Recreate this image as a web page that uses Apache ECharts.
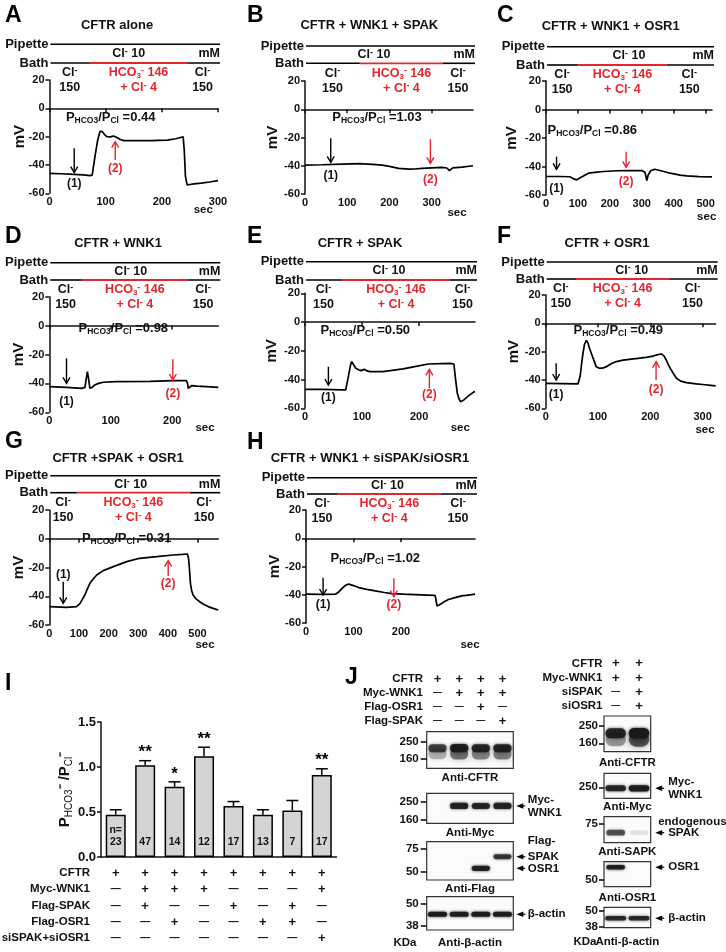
<!DOCTYPE html>
<html>
<head>
<meta charset="utf-8">
<script src="https://cdn.jsdelivr.net/npm/echarts@6.0.0/dist/echarts.min.js"></script>
<style>
html,body{margin:0;padding:0;background:#fff;}
#chart{width:726px;height:952px;}
</style>
</head>
<body>
<div id="chart"></div>
<script>
// ================= DATA =================
const panelLetters = ['A','B','C','D','E','F','G','H'];
const panelTitles = ['CFTR alone','CFTR + WNK1 + SPAK','CFTR + WNK1 + OSR1','CFTR + WNK1','CFTR + SPAK','CFTR + OSR1','CFTR +SPAK + OSR1','CFTR + WNK1 + siSPAK/siOSR1'];
const ratioLabels = ['0.44','1.03','0.86','0.98','0.50','0.49','0.31','1.02'];
const timeMax = [300,398,520,275,298,325,570,356];
const timeTickMax = [300,300,500,200,200,300,500,200];

const timeA = [0,20,43,60,72,76,81,86,90,94,98,102,108,114,120,126,132,150,180,210,225,233,238,240,242,245,250,257,270,285,300];
const mvA   = [-45.9,-46.2,-46.6,-47.0,-47.5,-47.2,-34,-22,-16.2,-16.5,-18.5,-20,-20.2,-19.6,-20.6,-22,-22.8,-22.8,-22.8,-22.4,-21.5,-20.6,-20.2,-30,-48,-54.1,-53.8,-53.4,-52.8,-52.0,-51.1];
const timeB = [0,40,88,128,160,183,200,222,246,260,277,300,324,336,340,342,345,350,372,398];
const mvB   = [-39.5,-39.3,-38.8,-38.5,-39,-39.6,-40.5,-41.8,-42.4,-42.3,-41.9,-41.5,-41.2,-41.6,-42.8,-43.5,-42.5,-41.5,-41.0,-40.0];
const timeC = [0,40,75,85,96,110,133,160,180,222,260,300,306,310,314,316,320,328,340,360,389,420,441,480,520];
const mvC   = [-47,-47,-47.2,-48.5,-49.4,-47.5,-44.7,-43.9,-43.5,-43,-42.9,-42.8,-42.8,-44,-48,-49.9,-46,-43,-41.9,-43,-44.7,-46,-46.6,-47.1,-47.3];
const timeD = [0,28,52.6,58,60,62,64,66,70,74,80,88,109.5,164,202,223,225,226,228,231.5,240,256,275];
const mvD   = [-42.2,-42.7,-43.4,-42.8,-37,-31.9,-37,-43.4,-42.6,-41.1,-40,-39.2,-38.8,-38.6,-38.1,-38.1,-40,-43.4,-43,-41.6,-41.9,-42.2,-42.7];
const timeE = [0,30,65.5,71.4,76,80,82,85,89,94,98,101,104,108,113,136.5,172,201.5,216,240,255,261,264,267,270,272.5,278.5,286,296,298];
const mvE   = [-46.8,-46.9,-47.2,-47.2,-38,-29.5,-27.5,-29.5,-32.2,-33.2,-33.8,-33.3,-32.9,-33.8,-34.5,-34.5,-32.6,-30.3,-29.2,-28.9,-28.7,-29.2,-40,-49.6,-53.5,-55.4,-54.2,-51.5,-48.6,-48.4];
const timeF = [0,30,61.8,64,66,68,71,74,77.7,81,84,87,92,96.5,103,110,116,125,135,148,160,176,192,205,211,216,221,226,230.5,235,240,245,250,258,269,288,300,320,325];
const mvF   = [-42.4,-42.6,-42.8,-42,-37,-30.6,-22,-15,-12,-14,-18,-21,-26,-30.6,-31.8,-31.5,-30.6,-28.5,-27,-26,-25.4,-24.8,-24,-23.2,-22.4,-22,-21.6,-23,-25.9,-29.5,-33,-36,-38.8,-40.8,-41.9,-42.8,-43.2,-44,-44.2];
const timeG = [0,58,92,98,104,112,120,128,137,148,160,182,216,261,305,362,418,450,466,470,473,476,480,485,495,507,520,536,555,570];
const mvG   = [-47.2,-47.7,-47.2,-46.5,-44.9,-42,-39.1,-35,-31,-28,-25.2,-22.2,-19.4,-15.9,-13.6,-12.5,-11.3,-10.9,-10.6,-14,-22,-31,-36,-39.1,-41.8,-43.8,-45.6,-47.2,-48.6,-49.6];
const timeH = [0,30,62,66,69,76,83,90,100,111,128,146,165,181,205,230,255,272,274,276,278,283,290,300,314,328,342,356];
const mvH   = [-39.6,-39.7,-39.6,-39.2,-38,-35.5,-33.3,-32.5,-33.5,-34.9,-36.2,-37.3,-38.4,-39.2,-39.6,-39.9,-40.2,-40.4,-44,-48,-47.5,-46.7,-45.2,-43.4,-42,-40.8,-40.2,-39.6];

// solution switch times (start / end of HCO3- bath), sec
const switchTimes = [[72,245],[130,327],[101,378],[53,225.5],[65,254],[58,236],[93,474],[67,284]];
// time points marked (1) and (2)
const arrow1Times = [44,61,33,28,41,20,47,36];
const arrow2Times = [117,297,251,201,218,211,401,185];

// panel I
const barGroups = ['g1','g2','g3','g4','g5','g6','g7','g8'];
const ratioMean = [0.47,1.02,0.78,1.12,0.566,0.47,0.518,0.912];
const ratioSem  = [0.055,0.05,0.055,0.10,0.05,0.055,0.11,0.068];
const nCells    = [23,47,14,12,17,13,7,17];
const signif    = ['','**','*','**','','','','**'];
const rowNames  = ['CFTR','Myc-WNK1','Flag-SPAK','Flag-OSR1','siSPAK+siOSR1'];
const rowSigns  = [
  ['+','+','+','+','+','+','+','+'],
  ['-','+','+','+','-','-','-','+'],
  ['-','+','-','-','+','-','+','-'],
  ['-','-','+','-','-','+','+','-'],
  ['-','-','-','-','-','-','-','+']
];

// panel J (blots): [lane, kDa, intensity]
const leftLanes = ['1','2','3','4'];
const leftRowNames = ['CFTR','Myc-WNK1','Flag-OSR1','Flag-SPAK'];
const leftRowSigns = [['+','+','+','+'],['-','+','+','+'],['-','-','+','-'],['-','-','-','+']];
const rightLanes = ['1','2'];
const rightRowNames = ['CFTR','Myc-WNK1','siSPAK','siOSR1'];
const rightRowSigns = [['+','+'],['+','+'],['-','+'],['-','+']];

const bandsL_CFTR  = [[0,216,0.72],[1,216,0.92],[2,216,0.86],[3,216,0.9]];
const smearL_CFTR  = [[0,186,0.3],[1,186,0.55],[2,186,0.48],[3,186,0.5]];
const bandsL_Myc   = [[1,229,0.9],[2,229,0.88],[3,229,0.9]];
const bandsL_Flag  = [[2,53.7,0.9],[3,66.5,0.78]];
const bandsL_Actin = [[0,44.4,0.95],[1,44.4,0.92],[2,44.4,0.95],[3,44.4,0.92]];
const bandsR_CFTR  = [[0,212,0.88],[1,212,0.98]];
const smearR_CFTR  = [[0,180,0.4],[1,180,0.7]];
const bandsR_Myc   = [[0,245,0.85],[1,245,0.95]];
const bandsR_SPAK  = [[0,64.7,0.65],[1,64.7,0.1]];
const bandsR_OSR1  = [[0,64,0.92]];
const bandsR_Actin = [[0,44.3,0.85],[1,44.3,0.85]];

// ================= BUILD =================
const FONT = "'Liberation Sans', Arial, Helvetica, sans-serif";
const INK = '#111111';
const RED = '#e3262b';
const chart = echarts.init(document.getElementById('chart'), null, {renderer:'canvas', width:726, height:952});
const traceTimes = [timeA,timeB,timeC,timeD,timeE,timeF,timeG,timeH];
const traceMv = [mvA,mvB,mvC,mvD,mvE,mvF,mvG,mvH];

function bold(size, color){ return {fontFamily:FONT, fontWeight:'bold', fontSize:size, color: color || INK}; }

const traceGrids = [
  {left:49.5, top:80, width:168.5, height:113.3},
  {left:305, top:81, width:168, height:113},
  {left:546, top:81, width:166, height:114},
  {left:49.3, top:296.7, width:169, height:115.6},
  {left:305, top:293.3, width:170, height:115},
  {left:545.7, top:295, width:170, height:113.3},
  {left:49.3, top:510, width:169, height:115},
  {left:306, top:510, width:169, height:113}
];

const opt = {backgroundColor:'#ffffff', animation:false, textStyle:{fontFamily:FONT}, grid:[], xAxis:[], yAxis:[], series:[]};

traceGrids.forEach((g,i)=>{
  opt.grid.push({left:g.left, top:g.top, width:g.width, height:g.height});
  const ticks = []; for (let v=0; v<=timeTickMax[i]; v+=100) ticks.push(v);
  opt.xAxis.push({type:'value', gridIndex:i, min:0, max:timeMax[i], splitLine:{show:false},
    axisLine:{show:true, lineStyle:{color:INK, width:1.5}},
    axisTick:{show:true, length:4, customValues:ticks, lineStyle:{color:INK, width:1.5}},
    axisLabel:Object.assign({customValues:ticks, margin:3}, bold(11))});
  opt.yAxis.push({type:'value', gridIndex:i, min:-60, max:20, interval:20, splitLine:{show:false},
    axisLine:{show:true, lineStyle:{color:INK, width:1.5}},
    axisTick:{show:true, length:4, lineStyle:{color:INK, width:1.5}},
    axisLabel:Object.assign({margin:5}, bold(11))});
  opt.series.push({type:'line', xAxisIndex:i, yAxisIndex:i, showSymbol:false, silent:true,
    data: traceTimes[i].map((t,k)=>[t, traceMv[i][k]]), lineStyle:{color:'#000', width:1.7}});
});

// ---- panel I ----
const barGrid = opt.grid.length;
opt.grid.push({left:101, top:722, width:235.5, height:135});
const barX = opt.xAxis.length;
opt.xAxis.push({type:'category', gridIndex:barGrid, data:barGroups,
  axisLine:{show:true, lineStyle:{color:INK, width:1.5}}, axisTick:{show:false}, axisLabel:{show:false}});
const barY = opt.yAxis.length;
opt.yAxis.push({type:'value', gridIndex:barGrid, min:0, max:1.5, interval:0.5, splitLine:{show:false},
  axisLine:{show:true, lineStyle:{color:INK, width:1.5}},
  axisTick:{show:true, length:4, lineStyle:{color:INK, width:1.5}},
  axisLabel:Object.assign({margin:5, formatter:v=>v.toFixed(1)}, bold(13)),
  name:'{p|P}{s|HCO3}{p|⁻ /P}{s|Cl}{p|⁻}', nameLocation:'middle', nameGap:22, nameRotate:90,
  nameTextStyle:{rich:{
    p:{fontFamily:FONT, fontSize:15, fontWeight:'bold', color:INK, lineHeight:18},
    s:{fontFamily:FONT, fontSize:10, color:INK, lineHeight:10, padding:[8,0,0,0]}
  }}});
opt.series.push({type:'bar', xAxisIndex:barX, yAxisIndex:barY, data:ratioMean, barWidth:20, silent:true,
  itemStyle:{color:'#d4d4d4', borderColor:'#000', borderWidth:1.5},
  label:{show:true, position:'insideBottom', distance:9, lineHeight:12,
    formatter:p=>(p.dataIndex===0 ? 'n=\n' : '') + nCells[p.dataIndex], fontFamily:FONT, fontWeight:'bold', fontSize:10.5, color:INK}});
opt.series.push({type:'custom', xAxisIndex:barX, yAxisIndex:barY, z:5, silent:true,
  data: ratioMean.map((m,i)=>[i, m, ratioSem[i]]),
  renderItem:(params, api)=>{
    const i = api.value(0), m = api.value(1), s = api.value(2);
    const p0 = api.coord([i, m]), p1 = api.coord([i, m + s]);
    const cw = 6;
    return {type:'group', children:[
      {type:'line', shape:{x1:p0[0], y1:p0[1], x2:p1[0], y2:p1[1]}, style:{stroke:'#000', lineWidth:1.5}},
      {type:'line', shape:{x1:p1[0]-cw, y1:p1[1], x2:p1[0]+cw, y2:p1[1]}, style:{stroke:'#000', lineWidth:1.5}},
      {type:'text', x:p1[0], y:p1[1]-8, style:{text:signif[i], fill:'#000', align:'center', verticalAlign:'middle', font:'bold 17px ' + FONT}}
    ]};
  }});
const rowOffsets = [16, 32, 49, 65, 81];
rowNames.forEach((nm, r)=>{
  opt.xAxis.push({type:'category', gridIndex:barGrid, data:barGroups, position:'bottom', offset:rowOffsets[r],
    axisLine:{show:false}, axisTick:{show:false},
    axisLabel:{interval:0, margin:0, verticalAlign:'middle',
      formatter:(v, idx)=> rowSigns[r][idx]==='+' ? '{p|+}' : '{m|—}',
      rich:{p:bold(13), m:bold(10)}},
    name:nm, nameLocation:'start', nameGap:11, nameTextStyle:Object.assign({verticalAlign:'middle'}, bold(11.5))});
});

// ---- panel J ----
function bandRenderer(thick, blur, frac){
  return (params, api)=>{
    const c = api.coord([api.value(0), api.value(1)]);
    const w = api.size([1,0])[0] * frac;
    const a = api.value(2);
    const h = thick * (0.8 + 0.25 * a);
    return {type:'rect', shape:{x:c[0]-w/2, y:c[1]-h/2, width:w, height:h, r:h/2},
      style:{fill:'rgba(25,25,25,' + a + ')', shadowBlur:blur, shadowColor:'rgba(25,25,25,' + a + ')'}};
  };
}
const blotSpecs = [
  {lanes:leftLanes, left:426.7, top:731.7, width:86.6, height:36.6, min:111.6, max:302, ticks:[250,160], caption:'Anti-CFTR', capGap:4, bands:bandsL_CFTR, smear:smearL_CFTR, thick:8, frac:0.84, lm:8, tl:6},
  {lanes:leftLanes, left:426.7, top:793.3, width:86.6, height:30, min:143.8, max:291, ticks:[250,160], caption:'Anti-Myc', capGap:3.4, bands:bandsL_Myc, thick:6, frac:0.84, lm:8, tl:6},
  {lanes:leftLanes, left:426.7, top:841.7, width:86.6, height:38.3, min:40.9, max:83, ticks:[75,50], caption:'Anti-Flag', capGap:3.3, bands:bandsL_Flag, thick:5, frac:0.84, lm:8, tl:6},
  {lanes:leftLanes, left:426.7, top:896.7, width:86.6, height:33.3, min:35.8, max:54, ticks:[50,38], caption:'Anti-β-actin', capGap:7.3, bands:bandsL_Actin, thick:5, frac:0.88, lm:8, tl:6},
  {lanes:rightLanes, left:604, top:716, width:46.7, height:35.7, min:116, max:302, ticks:[250,160], caption:'Anti-CFTR', capGap:5.6, bands:bandsR_CFTR, smear:smearR_CFTR, thick:10, frac:0.88, lm:6, tl:5},
  {lanes:rightLanes, left:604, top:773.3, width:46.7, height:25, min:195, max:320, ticks:[250], caption:'Anti-Myc', capGap:2.4, bands:bandsR_Myc, thick:6, frac:0.88, lm:6, tl:5},
  {lanes:rightLanes, left:604, top:816.7, width:46.7, height:26, min:53.7, max:82.3, ticks:[75], caption:'Anti-SAPK', capGap:3, bands:bandsR_SPAK, thick:6, frac:0.8, lm:6, tl:5},
  {lanes:rightLanes, left:604, top:861.7, width:46.7, height:25, min:42.6, max:70.1, ticks:[50], caption:'Anti-OSR1', capGap:5.6, bands:bandsR_OSR1, thick:4.5, frac:0.8, lm:6, tl:5},
  {lanes:rightLanes, left:604, top:907.3, width:46.7, height:20.4, min:37.25, max:52.55, ticks:[50,38], caption:'Anti-β-actin', capGap:8.6, bands:bandsR_Actin, thick:4.5, frac:0.9, lm:6, tl:5}
];
blotSpecs.forEach(b=>{
  b.gi = opt.grid.length;
  opt.grid.push({left:b.left, top:b.top, width:b.width, height:b.height, show:true, borderColor:'#333', borderWidth:1.2, backgroundColor:'#fbfbfb'});
  b.xi = opt.xAxis.length;
  opt.xAxis.push({type:'category', gridIndex:b.gi, data:b.lanes, axisLine:{show:false}, axisTick:{show:false}, axisLabel:{show:false},
    name:b.caption, nameLocation:'middle', nameGap:b.capGap, nameTextStyle:bold(11.5)});
  b.yi = opt.yAxis.length;
  opt.yAxis.push({type:'value', gridIndex:b.gi, min:b.min, max:b.max, splitLine:{show:false}, axisLine:{show:false},
    axisTick:{show:true, length:b.tl, customValues:b.ticks, lineStyle:{color:INK, width:1.6}},
    axisLabel:Object.assign({customValues:b.ticks, margin:b.lm}, bold(11.5))});
  if (b.smear) opt.series.push({type:'custom', xAxisIndex:b.xi, yAxisIndex:b.yi, silent:true, clip:true, data:b.smear, renderItem:bandRenderer(b.thick*1.5, 7, b.frac)});
  opt.series.push({type:'custom', xAxisIndex:b.xi, yAxisIndex:b.yi, silent:true, clip:true, data:b.bands, renderItem:bandRenderer(b.thick, 3, b.frac)});
});
function headerAxes(spec, names, signs, offsets, gap){
  names.forEach((nm, r)=>{
    opt.xAxis.push({type:'category', gridIndex:spec.gi, data:spec.lanes, position:'top', offset:offsets[r],
      axisLine:{show:false}, axisTick:{show:false},
      axisLabel:{interval:0, margin:0, verticalAlign:'middle',
        formatter:(v, idx)=> signs[r][idx]==='+' ? '{p|+}' : '{m|—}',
        rich:{p:bold(13), m:bold(9)}},
      name:nm, nameLocation:'start', nameGap:gap, nameTextStyle:Object.assign({verticalAlign:'middle'}, bold(11.5))});
  });
}
headerAxes(blotSpecs[0], leftRowNames, leftRowSigns, [52.7, 38.7, 24.7, 10.7], 3.7);
headerAxes(blotSpecs[4], rightRowNames, rightRowSigns, [52.3, 38, 24, 10], 1.5);

chart.setOption(opt);

// ================= ANNOTATIONS =================
const schema = [
  {pip:44.3, bath:63, c10:-5},
  {pip:46, bath:63.3, c10:-15},
  {pip:46.7, bath:65, c10:0},
  {pip:262.7, bath:280, c10:-3},
  {pip:261.7, bath:280, c10:-1},
  {pip:262, bath:279, c10:1},
  {pip:475.7, bath:492.7, c10:-3},
  {pip:477.7, bath:494, c10:-3}
];
const titlePos = [[117,25],[369.3,25],[610.7,26],[118,243],[360,243],[607,243],[118,458.5],[370,458.5]];
const letterPos = [[5,16],[247,16],[497,16],[5,236.5],[247,236.5],[497,236.5],[5,442],[247,443]];
const ratioPos = [[110.7,117.3],[377,117.3],[592.3,130],[123.3,328.3],[365.3,330],[618.3,330],[126.7,538.3],[375.3,558.3]];
const secPos = [[203.3,210],[457,213.3],[706.7,216.7],[205,428.3],[460.3,428.3],[705,430],[205,645],[470,645]];
const mvGap = [29.5,32,33.7,30,32.7,31.4,30,30.7];
const arrowLayout = [
  {a1:[148.3,172.7,183.3], a2:[160,141.7,168.3]},
  {a1:[138.3,162.3,176], a2:[139.3,163.3,180]},
  {a1:[156.7,169.3,188.3], a2:[151.7,167.3,181.7]},
  {a1:[358.3,383.3,401.7], a2:[359.3,380,393.3]},
  {a1:[366.7,385,397.7], a2:[388.3,369.3,395]},
  {a1:[363.3,380,395], a2:[380,361.7,390]},
  {a1:[581.7,603.3,575], a2:[576,560.7,583.3]},
  {a1:[577.7,595,605], a2:[578.3,596.7,605]}
];

const G = [];
function T(x, y, text, o){
  return {type:'text', x:x, y:y, silent:true, z:50,
    style:Object.assign({text:text, fill:INK, font:'bold 12px ' + FONT, align:'center', verticalAlign:'middle'}, o || {})};
}
function L(x1, y1, x2, y2, color, w){
  return {type:'line', silent:true, z:50, shape:{x1:x1, y1:y1, x2:x2, y2:y2}, style:{stroke:color, lineWidth:w || 1.6}};
}
function arrow(x, from, to, color){
  const dir = to > from ? 1 : -1;
  return [L(x, from, x, to, color, 1.4),
    {type:'polyline', silent:true, z:50, shape:{points:[[x-3.5, to - dir*6],[x, to],[x+3.5, to - dir*6]]}, style:{stroke:color, lineWidth:1.4, fill:null}}];
}
const richSol = {
  sub:{fontSize:8, fontWeight:'bold', fontFamily:FONT, padding:[6,0,0,0], lineHeight:8},
  sup:{fontSize:9, fontWeight:'bold', fontFamily:FONT, lineHeight:9, padding:[0,0,5,0]},
  n:{fontSize:12.5, fontWeight:'bold', fontFamily:FONT, lineHeight:15}
};
for (let i=0; i<8; i++){
  const S = schema[i];
  const px = (t, v)=>chart.convertToPixel({gridIndex:i}, [t, v]);
  const x0 = px(0, 0)[0], x1 = px(timeMax[i], 0)[0];
  const xs1 = px(switchTimes[i][0], 0)[0], xs2 = px(switchTimes[i][1], 0)[0];
  const ls = x0 + 1, le = x1 + 2;
  G.push(L(ls, S.pip, le, S.pip, '#000', 1.6));
  G.push(L(ls, S.bath, xs1, S.bath, '#000', 1.6));
  G.push(L(xs1, S.bath, xs2, S.bath, RED, 1.8));
  G.push(L(xs2, S.bath, le, S.bath, '#000', 1.6));
  G.push(T(ls - 2, S.pip, 'Pipette', {align:'right', font:'bold 13px ' + FONT}));
  G.push(T(ls - 2, S.bath, 'Bath', {align:'right', font:'bold 13px ' + FONT}));
  const ym = (S.pip + S.bath) / 2;
  G.push(T((x0 + x1)/2 + S.c10, ym, '{n|Cl}{sup|-}{n| 10}', {rich:richSol}));
  G.push(T(le, ym, 'mM', {align:'right', font:'bold 12.5px ' + FONT}));
  const cl = (x0 + xs1)/2, hc = (xs1 + xs2)/2, cr = (xs2 + x1)/2;
  G.push(T(cl, S.bath + 10, '{n|Cl}{sup|-}', {rich:richSol}));
  G.push(T(cl, S.bath + 25, '150', {font:'bold 12.5px ' + FONT}));
  G.push(T(hc, S.bath + 10, '{n|HCO}{sub|3}{sup|-}{n| 146}', {rich:richSol, fill:RED}));
  G.push(T(hc, S.bath + 25, '{n|+ Cl}{sup|-}{n| 4}', {rich:richSol, fill:RED}));
  G.push(T(cr, S.bath + 10, '{n|Cl}{sup|-}', {rich:richSol}));
  G.push(T(cr, S.bath + 25, '150', {font:'bold 12.5px ' + FONT}));
  G.push(T(titlePos[i][0], titlePos[i][1], panelTitles[i], {font:'bold 13px ' + FONT}));
  G.push(T(letterPos[i][0], letterPos[i][1], panelLetters[i], {align:'left', font:'bold 23px ' + FONT, fill:'#000'}));
  G.push(T(ratioPos[i][0], ratioPos[i][1], '{p|P}{s|HCO3}{p|/P}{s|Cl}{p| =' + ratioLabels[i] + '}', {rich:{
    p:{fontSize:13, fontWeight:'bold', fontFamily:FONT, lineHeight:16},
    s:{fontSize:8.5, fontWeight:'bold', fontFamily:FONT, lineHeight:9, padding:[7,0,0,0]}}}));
  G.push(T(secPos[i][0], secPos[i][1], 'sec', {font:'bold 11.5px ' + FONT}));
  const gr = traceGrids[i];
  G.push(Object.assign(T(gr.left - mvGap[i], gr.top + gr.height/2, 'mV', {font:'bold 15px ' + FONT}), {rotation:Math.PI/2}));
  const A = arrowLayout[i];
  const xa1 = px(arrow1Times[i], 0)[0], xa2 = px(arrow2Times[i], 0)[0];
  arrow(xa1, A.a1[0], A.a1[1], '#000').forEach(e=>G.push(e));
  G.push(T(xa1, A.a1[2], '(1)', {font:'bold 12px ' + FONT}));
  arrow(xa2, A.a2[0], A.a2[1], RED).forEach(e=>G.push(e));
  G.push(T(xa2, A.a2[2], '(2)', {font:'bold 12px ' + FONT, fill:RED}));
}
G.push(T(5, 683.3, 'I', {align:'left', font:'bold 23px ' + FONT, fill:'#000'}));
G.push(T(345, 677.5, 'J', {align:'left', font:'bold 23px ' + FONT, fill:'#000'}));
G.push(T(405, 943, 'KDa', {font:'bold 11.5px ' + FONT}));
G.push(T(585, 942, 'KDa', {font:'bold 11.5px ' + FONT}));

const blotMarks = [
  {b:1, kDa:229, text:'Myc-\nWNK1'},
  {b:2, kDa:66.5, text:'SPAK', above:'Flag-'},
  {b:2, kDa:53.7, text:'OSR1'},
  {b:3, kDa:44.4, text:'β-actin'},
  {b:5, kDa:245, text:'Myc-\nWNK1'},
  {b:6, kDa:64.7, text:'SPAK', above:'endogenous'},
  {b:7, kDa:64, text:'OSR1'},
  {b:8, kDa:44.3, text:'β-actin'}
];
blotMarks.forEach(m=>{
  const b = blotSpecs[m.b];
  const y = chart.convertToPixel({gridIndex:b.gi}, [0, m.kDa])[1];
  const right = b.left + b.width;
  const tip = right + (m.b < 4 ? 3 : 4.5);
  const tx = right + (m.b < 4 ? 14.5 : 17.5);
  G.push({type:'polygon', silent:true, z:50, shape:{points:[[tip, y],[tip + 7, y - 2.8],[tip + 7, y + 2.8]]}, style:{fill:'#000'}});
  G.push(L(tip + 6, y, tip + 9, y, '#000', 1.2));
  G.push(T(tx, y, m.text, {align:'left', font:'bold 11.5px ' + FONT, lineHeight:13}));
  if (m.above) G.push(T(m.b < 4 ? tx : tx - 10, y - (m.b < 4 ? 16 : 10.5), m.above, {align:'left', font:'bold 11.5px ' + FONT}));
});

chart.setOption({graphic:{elements:G}});
</script>
</body>
</html>
